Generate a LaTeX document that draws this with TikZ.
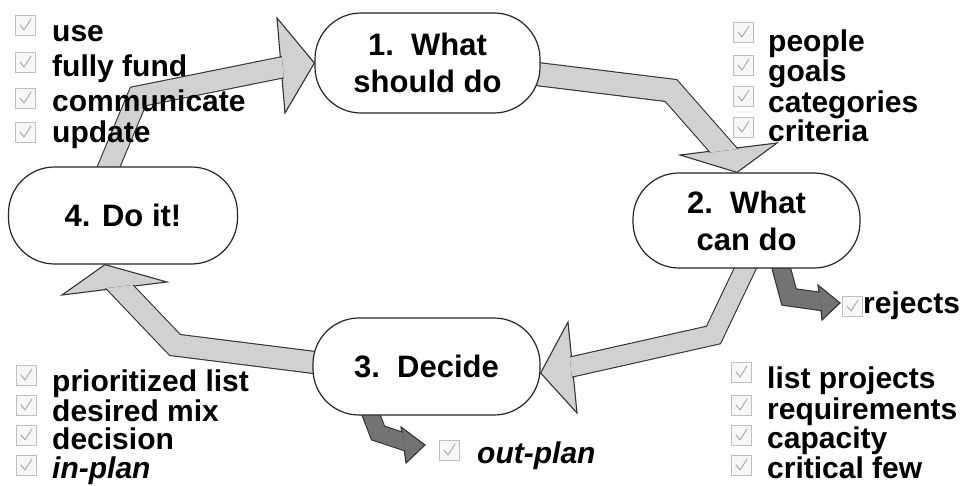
\documentclass[tikz,border=0pt]{standalone}
\usepackage{fontspec}
\setmainfont{Liberation Sans}
\usetikzlibrary{calc}
\pgfdeclarelayer{bg}
\pgfsetlayers{bg,main}

\tikzset{
  stage/.style={draw=black!85, fill=white, line width=1.2pt, rounded corners=46pt,
    align=center, inner sep=0pt, font=\fontsize{31}{37}\selectfont\bfseries},
  item/.style={anchor=base west, inner sep=0pt, font=\fontsize{30}{34}\selectfont\bfseries},
  itemit/.style={item, font=\fontsize{30}{34}\selectfont\bfseries\itshape},
  bigshaft/.style={draw=black!80, line width=1.1pt, double=black!18, line join=miter, line cap=butt},
  bighead/.style={draw=black!80, line width=1.1pt, fill=black!18, line join=miter},
  smallshaft/.style={bigshaft, double=black!55},
  smallhead/.style={bighead, fill=black!55},
  chk/.pic={
    \draw[draw=black!25, fill=black!3, line width=0.8pt] (-10,-10) rectangle (10,10);
    \draw[black!35, line width=0.9pt, line cap=round, line join=round] (-5,0) -- (-1,5) -- (6,-6);
  }
}

% block arrow: #1 shaft style, #2 head style, #3 shaft width, #4 start, #5 bend,
% #6 tip, #7 centre of the head base, #8 half of the head base
\newcommand{\blockarrow}[8]{%
  \coordinate (T) at #6;
  \coordinate (B) at #7;
  \coordinate (C1) at ($(B)-#8$);
  \coordinate (C2) at ($(B)+#8$);
  \path[#2] (C1) -- (T) -- (C2) -- cycle;
  \coordinate (D) at ($(T)-(B)$);
  \coordinate (K1) at ($(B)!9!(C1)$);
  \coordinate (K2) at ($(B)!9!(C2)$);
  \begin{scope}
    \clip ($(K1)+0.05*(D)$) -- ($(K2)+0.05*(D)$) -- ($(K2)-20*(D)$) -- ($(K1)-20*(D)$) -- cycle;
    \draw[#1, double distance=#3] #4 -- #5 -- ($(B)!0.5!(T)$);
  \end{scope}
}

\begin{document}
\begin{tikzpicture}[x=1pt, y=-1pt]
\useasboundingbox (0,0) rectangle (965,486);

% the four stages
\node[stage, minimum width=225pt, minimum height=100pt] (n1) at (427.5,63) {1.\ \ What\\should do};
\node[stage, minimum width=227pt, minimum height=95pt] (n2) at (746.5,220.5) {2.\ \ What\\can do};
\node[stage, minimum width=227pt, minimum height=97pt] (n3) at (426.5,366.5) {3.\ \ Decide};
\node[stage, minimum width=229pt, minimum height=97pt] (n4) at (123,215.5) {4. Do it!};

\begin{pgfonlayer}{bg}
  % cycle arrows
  \blockarrow{bigshaft}{bighead}{20pt}{($(n4.north)+(-23,21)$)}{(138,96.5)}{(n1.west)}{(281,65.5)}{(4,47.5)}
  \blockarrow{bigshaft}{bighead}{22pt}{($(n1.east)+(-20,9)$)}{(671,90.5)}{($(n2.north)+(-9.5,0)$)}{(728.5,149)}{(48.5,-6)}
  \blockarrow{bigshaft}{bighead}{19pt}{($(n2.south)+(11.5,-27)$)}{(713.5,335)}{($(n3.east)+(0,6.5)$)}{(572.5,367.5)}{(4.5,45.5)}
  \blockarrow{bigshaft}{bighead}{21pt}{($(n3.west)+(22,-1.5)$)}{(175,345)}{($(n4.south)+(-18,0)$)}{(114.5,288.5)}{(52.5,-6.5)}
  % side outputs
  \blockarrow{smallshaft}{smallhead}{17pt}{($(n2.south)+(30,-18)$)}{(789,297)}{(840,303)}{(820,302.5)}{(2,17.5)}
  \blockarrow{smallshaft}{smallhead}{16pt}{($(n3.south)+(-61.5,-16.5)$)}{(378,433)}{(425,445)}{(403.5,445)}{(-2.5,-18)}
\end{pgfonlayer}

% list beside stage 4 -> 1
\foreach \y in {25,62,98,132} \pic at (25,\y) {chk};
\node[item] (a1) at (52,42) {use};
\node[item] (a2) at (52,77) {fully fund};
\node[item] (a3) at (52,112) {communicate};
\node[item] (a4) at (52,143) {update};

% list beside stage 1 -> 2
\foreach \y in {32,65,96,127} \pic at (743,\y) {chk};
\node[item] (b1) at (768,52) {people};
\node[item] (b2) at (768,82) {goals};
\node[item] (b3) at (768,113) {categories};
\node[item] (b4) at (768,142) {criteria};

% list beside stage 2 -> 3
\foreach \y in {372,405,435,465} \pic at (741,\y) {chk};
\node[item] (c1) at (767,388) {list projects};
\node[item] (c2) at (767,419) {requirements};
\node[item] (c3) at (767,448) {capacity};
\node[item] (c4) at (767,478) {critical few};

% list beside stage 3 -> 4
\foreach \y in {375,405,435,465} \pic at (26,\y) {chk};
\node[item] (d1) at (52,391) {prioritized list};
\node[item] (d2) at (52,421) {desired mix};
\node[item] (d3) at (52,449) {decision};
\node[itemit] (d4) at (52,478.5) {in-plan};

% side outputs
\pic at (852,306) {chk};
\node[item] (rj) at (863,313) {rejects};
\pic at (449,450) {chk};
\node[itemit] (op) at (477,463) {out-plan};
\end{tikzpicture}
\end{document}
